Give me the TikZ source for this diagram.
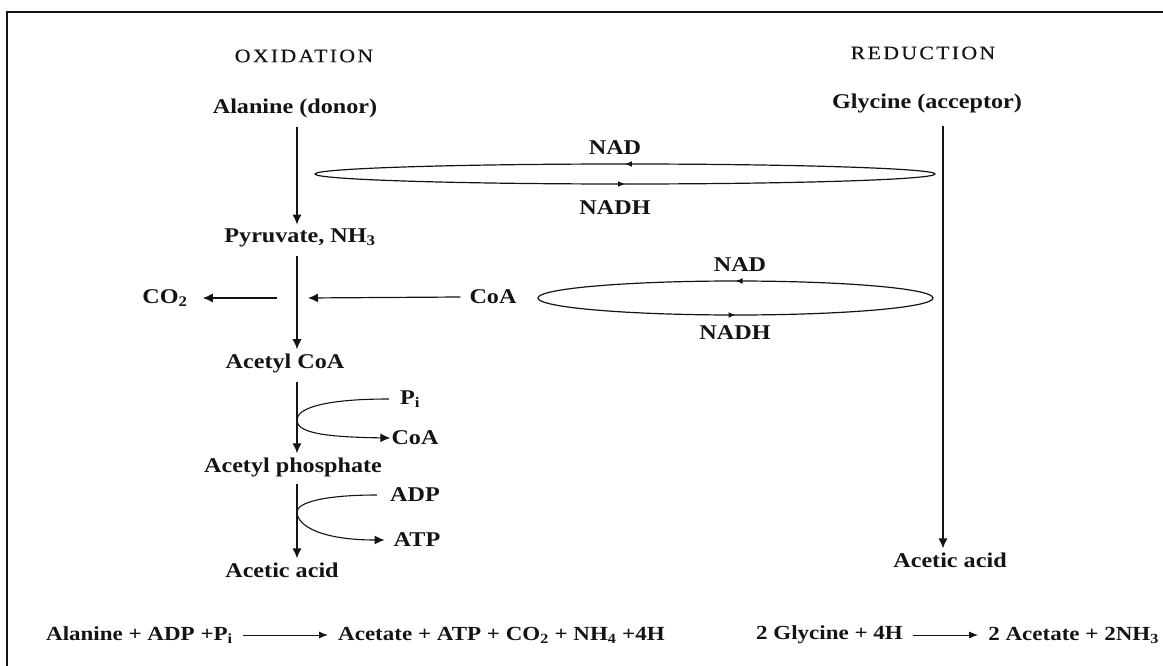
\documentclass[tikz,border=0pt]{standalone}
\usepackage{fontspec}
\setmainfont{Liberation Serif}[FakeStretch=1.15]
\usepackage{tikz}
\usetikzlibrary{arrows.meta, positioning, calc, decorations.markings}
\definecolor{inkblack}{RGB}{20,20,20}

\tikzset{
    chem/.style={font=\bfseries\fontsize{21}{25}\selectfont, text=inkblack, inner sep=1pt},
    eqtext/.style={font=\bfseries\fontsize{20}{24}\selectfont, text=inkblack, inner sep=1pt},
    phase/.style={font=\fontsize{19}{24}\selectfont\addfontfeatures{LetterSpace=12,FakeBold=0.4},
                  text=inkblack, inner sep=1pt},
    flow/.style={-{Latex[length=10pt,width=9pt]}, draw=inkblack, line width=1.2pt},
    eqflow/.style={-{Latex[length=9pt,width=7pt]}, draw=inkblack, line width=1pt,
                   shorten <=9pt, shorten >=9pt},
    nadloop/.style={draw=inkblack, line width=1.2pt, postaction={decorate},
        decoration={markings,
            mark=at position 0.25 with {\arrowreversed{Latex[length=7pt,width=6pt]}},
            mark=at position 0.75 with {\arrowreversed{Latex[length=7pt,width=6pt]}}}}
}

\begin{document}
\begin{tikzpicture}[x=1pt, y=-1pt]
    \useasboundingbox (0,0) rectangle (1163,666);
    % Frame (top and left edges only)
    \draw[inkblack, line width=2.2pt] (7,666) -- (7,12) -- (1163,12);
    % Column headings
    \node[phase] (ox)  at (304,56) {OXIDATION};
    \node[phase] (red) at (923,53) {REDUCTION};
    % Oxidation branch
    \coordinate (spine) at (297,0);
    \node[chem] (ala)    at (295,108) {Alanine (donor)};
    \node[chem] (pyr)    at (300,238) {Pyruvate, NH\textsubscript{3}};
    \node[chem] (acoa)   at (285,363) {Acetyl CoA};
    \node[chem] (acp)    at (293,467) {Acetyl phosphate};
    \node[chem] (acL)    at (282,570) {Acetic acid};
    \node[chem] (co2)    at (165,298) {CO\textsubscript{2}};
    \node[chem] (coain)  at (493,297) {CoA};
    \node[chem] (pi)     at (410,399) {P\textsubscript{i}};
    \node[chem] (coaout) at (415,438) {CoA};
    \node[chem] (adp)    at (415,495) {ADP};
    \node[chem] (atp)    at (417,540) {ATP};
    \draw[flow] ([yshift=-8pt]ala.south -| spine)  -- ([yshift=3pt]pyr.north -| spine);
    \draw[flow] ([yshift=-8pt]pyr.south -| spine)  -- ([yshift=3pt]acoa.north -| spine);
    \draw[flow] ([yshift=-8pt]acoa.south -| spine) -- ([yshift=3pt]acp.north -| spine);
    \draw[flow] ([yshift=-6pt]acp.south -| spine)  -- ([yshift=3pt]acL.north -| spine);
    % Side inputs and outputs
    \coordinate (join) at (297,298);
    \draw[flow] ([xshift=-8pt]coain.west) -- ([xshift=11pt]join);
    \draw[flow] ([xshift=-20pt]join) -- ([xshift=14pt]co2.east);
    \coordinate (bend1) at (297,420);
    \coordinate (bend2) at (297,512);
    \draw[inkblack, line width=1.1pt] ([xshift=-10pt]pi.west) .. controls (325,399) and (297,408) .. (bend1);
    \draw[flow, line width=1.1pt] (bend1) .. controls (297,432) and (320,437) .. (coaout.west);
    \draw[inkblack, line width=1.1pt] ([xshift=-12pt]adp.west) .. controls (322,495) and (297,503) .. (bend2);
    \draw[flow, line width=1.1pt] (bend2) .. controls (297,526) and (322,540) .. ([xshift=-8pt]atp.west);
    % Reduction branch
    \coordinate (rspine) at (943,0);
    \node[chem] (gly) at (927,103) {Glycine (acceptor)};
    \node[chem] (acR) at (950,560) {Acetic acid};
    \draw[flow] ([yshift=-12pt]gly.south -| rspine) -- ([yshift=3pt]acR.north -| rspine);
    % NAD / NADH shuttles
    \draw[nadloop] (625,174) ellipse (310 and 10);
    \node[chem] (nad1)  at (615,148) {NAD};
    \node[chem] (nadh1) at (615,208) {NADH};
    \draw[nadloop] (735.5,298) ellipse (197.5 and 17);
    \node[chem] (nad2)  at (740,265) {NAD};
    \node[chem] (nadh2) at (735,333) {NADH};
    % Overall equations
    \node[eqtext, anchor=west] (eqL1) at (45,635)  {Alanine + ADP +P\textsubscript{i}};
    \node[eqtext, anchor=west] (eqL2) at (337,635) {Acetate + ATP + CO\textsubscript{2} + NH\textsubscript{4} +4H};
    \node[eqtext, anchor=west] (eqR1) at (755,635) {2 Glycine + 4H};
    \node[eqtext, anchor=east] (eqR2) at (1160,635) {2 Acetate + 2NH\textsubscript{3}};
    \draw[eqflow] (eqL1) -- (eqL2);
    \draw[eqflow] (eqR1) -- (eqR2);
\end{tikzpicture}
\end{document}
